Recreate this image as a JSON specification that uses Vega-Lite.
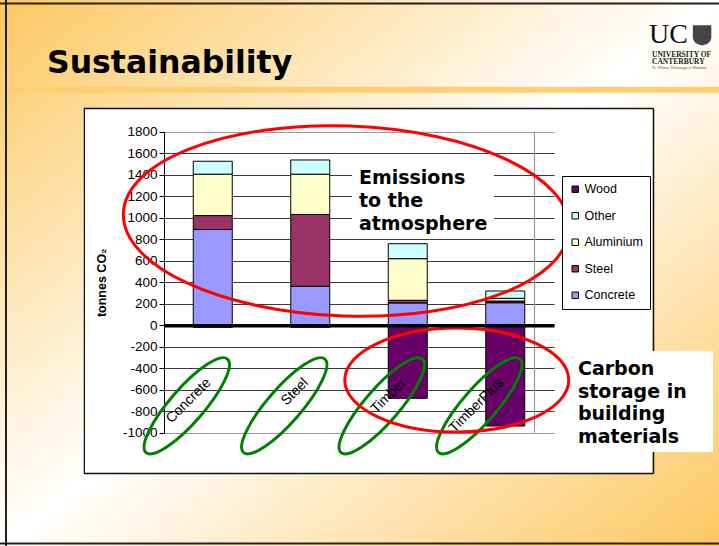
{
  "$schema": "https://vega.github.io/schema/vega-lite/v6.json",
  "width": 719,
  "height": 546,
  "autosize": "none",
  "padding": 0,
  "background": "#ffffff",
  "view": {
    "stroke": null,
    "fill": {"gradient": "linear", "x1": 0, "y1": 0, "x2": 1, "y2": 1,
      "stops": [{"offset": 0, "color": "#FCC862"}, {"offset": 0.5, "color": "#FFFFFF"}, {"offset": 1, "color": "#FDC761"}]}
  },
  "title": {"text": "Sustainability", "anchor": "start", "frame": "group", "offset": 0, "dx": 47, "dy": 105,
    "font": "DejaVu Sans", "fontSize": 31.5, "fontWeight": "bold", "color": "#000000", "baseline": "alphabetic"},
  "config": {
    "axis": {"labelOverlap": false},
    "legend": {"orient": "none", "legendX": 562, "legendY": 176, "strokeColor": "#000000", "fillColor": "#ffffff",
      "padding": 7, "rowPadding": 13.5, "symbolType": "square", "symbolSize": 42, "symbolStrokeColor": "#000000",
      "symbolStrokeWidth": 1, "labelFont": "Liberation Sans", "labelFontSize": 12.5, "labelColor": "#000000", "labelOffset": 3,
      "cornerRadius": 0, "symbolOpacity": 1}
  },
  "datasets": {
    "emissions": [
      {"category": "Concrete", "material": "Concrete", "value": 890, "ord": 1},
      {"category": "Concrete", "material": "Steel", "value": 130, "ord": 2},
      {"category": "Concrete", "material": "Aluminium", "value": 385, "ord": 3},
      {"category": "Concrete", "material": "Other", "value": 120, "ord": 4},
      {"category": "Concrete", "material": "Wood", "value": -20, "ord": 5},
      {"category": "Steel", "material": "Concrete", "value": 362, "ord": 1},
      {"category": "Steel", "material": "Steel", "value": 668, "ord": 2},
      {"category": "Steel", "material": "Aluminium", "value": 375, "ord": 3},
      {"category": "Steel", "material": "Other", "value": 132, "ord": 4},
      {"category": "Steel", "material": "Wood", "value": -20, "ord": 5},
      {"category": "Timber", "material": "Concrete", "value": 207, "ord": 1},
      {"category": "Timber", "material": "Steel", "value": 25, "ord": 2},
      {"category": "Timber", "material": "Aluminium", "value": 387, "ord": 3},
      {"category": "Timber", "material": "Other", "value": 139, "ord": 4},
      {"category": "Timber", "material": "Wood", "value": -680, "ord": 5},
      {"category": "TimberPlus", "material": "Concrete", "value": 209, "ord": 1},
      {"category": "TimberPlus", "material": "Steel", "value": 16, "ord": 2},
      {"category": "TimberPlus", "material": "Aluminium", "value": 25, "ord": 3},
      {"category": "TimberPlus", "material": "Other", "value": 68, "ord": 4},
      {"category": "TimberPlus", "material": "Wood", "value": -938, "ord": 5}
    ]
  },
  "resolve": {"scale": {"x": "independent", "y": "independent"}, "axis": {"x": "independent", "y": "independent"}},
  "layer": [
    {
      "data": {"values": [{}]},
      "layer": [
        {
          "mark": {"type": "point", "opacity": 0},
          "encoding": {
            "x": {"datum": 0.5, "type": "quantitative",
              "scale": {"domain": [0, 1], "range": [83.5, 653], "nice": false, "zero": false},
              "axis": {"orient": "top", "values": [0, 0.5, 1], "tickCount": 50, "grid": true, "domain": false, "ticks": false, "labels": false, "title": null, "zindex": 0,
                "gridOpacity": 1,
                "gridColor": {"condition": {"test": "datum.value === 0.5", "value": "#ffffff"}, "value": "#111111"},
                "gridWidth": {"condition": {"test": "datum.value === 0.5", "value": 567}, "value": 1.5}}},
            "y": {"datum": 0.5, "type": "quantitative",
              "scale": {"domain": [0, 1], "range": [473, 108], "nice": false, "zero": false},
              "axis": {"orient": "left", "values": [0, 1], "tickCount": 50, "grid": true, "domain": false, "ticks": false, "labels": false, "title": null, "zindex": 0,
                "gridOpacity": 1, "gridColor": "#111111", "gridWidth": 1.5}}
          }
        },
        {
          "mark": {"type": "rule", "color": "#FECF72", "strokeWidth": 6},
          "encoding": {"y": {"datum": 1.0501, "type": "quantitative"}}
        },
        {
          "mark": {"type": "rule", "color": "#222222", "strokeWidth": 2},
          "encoding": {"y": {"datum": 1.2863, "type": "quantitative"}}
        },
        {
          "mark": {"type": "rule", "color": "#222222", "strokeWidth": 2},
          "encoding": {"y": {"datum": -0.1932, "type": "quantitative"}}
        },
        {
          "mark": {"type": "rule", "color": "#222222", "strokeWidth": 2},
          "encoding": {"x": {"datum": -0.1361, "type": "quantitative"}}
        },
        {
          "mark": {"type": "text", "text": "UC", "font": "Liberation Serif", "fontSize": 28, "align": "left", "baseline": "alphabetic", "color": "#111111"},
          "encoding": {"x": {"datum": 0.993, "type": "quantitative"}, "y": {"datum": 1.1781, "type": "quantitative"}}
        },
        {
          "mark": {"type": "point", "shape": "M-1,-1H1V0.3Q1,1,0,1.2Q-1,1,-1,0.3Z", "size": 340, "filled": true, "color": "#444444", "opacity": 1},
          "encoding": {"x": {"datum": 1.0862, "type": "quantitative"}, "y": {"datum": 1.2014, "type": "quantitative"}}
        },
        {
          "mark": {"type": "text", "text": "UNIVERSITY OF", "font": "Liberation Serif", "fontSize": 7.5, "fontWeight": "bold", "align": "left", "baseline": "alphabetic", "color": "#222222"},
          "encoding": {"x": {"datum": 0.9982, "type": "quantitative"}, "y": {"datum": 1.1397, "type": "quantitative"}}
        },
        {
          "mark": {"type": "text", "text": "CANTERBURY", "font": "Liberation Serif", "fontSize": 7.5, "fontWeight": "bold", "align": "left", "baseline": "alphabetic", "color": "#222222"},
          "encoding": {"x": {"datum": 0.9982, "type": "quantitative"}, "y": {"datum": 1.1192, "type": "quantitative"}}
        },
        {
          "mark": {"type": "text", "text": "Te Whare Wānanga o Waitaha", "font": "Liberation Serif", "fontSize": 4.5, "align": "left", "baseline": "alphabetic", "color": "#555555"},
          "encoding": {"x": {"datum": 0.9982, "type": "quantitative"}, "y": {"datum": 1.1055, "type": "quantitative"}}
        }
      ]
    },
    {
      "layer": [
        {
          "data": {"name": "emissions"},
          "mark": {"type": "bar", "stroke": "#000000", "strokeWidth": 1},
          "encoding": {
            "x": {"field": "category", "type": "nominal", "sort": ["Concrete", "Steel", "Timber", "TimberPlus"],
              "scale": {"domain": ["Concrete", "Steel", "Timber", "TimberPlus"], "range": [164, 554], "paddingInner": 0.6, "paddingOuter": 0.3},
              "axis": {"orient": "bottom", "offset": -220.8, "domain": true, "domainColor": "#000000", "domainWidth": 3.5, "ticks": false,
                "labels": true, "labelAngle": -45, "labelAlign": "right", "labelBaseline": "middle", "labelPadding": 55, "labelOffset": -4,
                "labelFont": "Liberation Sans", "labelFontSize": 14, "labelColor": "#000000", "labelOverlap": false, "labelBound": false,
                "grid": false, "title": null, "zindex": 1}},
            "y": {"field": "value", "type": "quantitative", "stack": "zero",
              "scale": {"domain": [-1000, 1800], "range": [432.7, 131.7], "nice": false, "zero": false},
              "axis": {"orient": "left", "offset": -164, "values": [-1000, -800, -600, -400, -200, 0, 200, 400, 600, 800, 1000, 1200, 1400, 1600, 1800],
                "tickCount": 50,
                "labelExpr": "'' + datum.value", "labelFont": "Liberation Sans", "labelFontSize": 13.5, "labelColor": "#000000", "labelPadding": 2,
                "labelOverlap": false, "labelBound": false, "labelFlush": false,
                "tickSize": 5, "tickColor": "#000000", "domainColor": "#000000", "domainWidth": 1, "grid": true, "gridOpacity": 1,
                "gridColor": {"condition": {"test": "datum.value === 1800 || datum.value === -1000", "value": "#999999"}, "value": "#3a3a3a"},
                "gridWidth": 1, "title": "tonnes CO₂", "titleFont": "Liberation Sans", "titleFontSize": 12.5, "titleFontWeight": "bold",
                "titleColor": "#000000", "titlePadding": 14, "zindex": 0}},
            "color": {"field": "material", "type": "nominal",
              "scale": {"domain": ["Wood", "Other", "Aluminium", "Steel", "Concrete"], "range": ["#660066", "#CCFFFF", "#FFFFCC", "#993366", "#9999FF"]},
              "legend": {"title": null}},
            "order": {"field": "ord", "type": "quantitative"}
          }
        },
        {
          "data": {"values": [{}]},
          "mark": {"type": "rule", "color": "#999999", "strokeWidth": 1.2},
          "encoding": {"x": {"datum": "TimberPlus", "type": "nominal"}, "xOffset": {"value": 48.75},
            "y": {"datum": 1800, "type": "quantitative"}, "y2": {"datum": -1000}}
        },
        {
          "data": {"values": [{}]},
          "mark": {"type": "bar", "color": "#ffffff", "width": 142, "xOffset": 15.2},
          "encoding": {"x": {"datum": "Timber", "type": "nominal"}, "y": {"datum": 1518, "type": "quantitative"}, "y2": {"datum": 830}}
        },
        {
          "data": {"values": [{}]},
          "mark": {"type": "bar", "color": "#ffffff", "width": 147, "xOffset": 134.2},
          "encoding": {"x": {"datum": "TimberPlus", "type": "nominal"}, "y": {"datum": -240, "type": "quantitative"}, "y2": {"datum": -1180}}
        },
        {
          "data": {"values": [{}]},
          "mark": {"type": "text", "text": ["Emissions", "to the", "atmosphere"], "font": "DejaVu Sans", "fontSize": 19, "fontWeight": "bold",
            "lineHeight": 22.8, "align": "left", "baseline": "alphabetic", "color": "#000000", "xOffset": -48.8},
          "encoding": {"x": {"datum": "Timber", "type": "nominal"}, "y": {"datum": 1313, "type": "quantitative"}}
        },
        {
          "data": {"values": [{}]},
          "mark": {"type": "text", "text": ["Carbon", "storage in", "building", "materials"], "font": "DejaVu Sans", "fontSize": 19, "fontWeight": "bold",
            "lineHeight": 22.6, "align": "left", "baseline": "alphabetic", "color": "#000000", "xOffset": 72.7},
          "encoding": {"x": {"datum": "TimberPlus", "type": "nominal"}, "y": {"datum": -463, "type": "quantitative"}}
        },
        {
          "data": {"name": "emissions"},
          "transform": [{"filter": "datum.material === 'Concrete'"}],
          "mark": {"type": "point", "shape": "M1,0C1,0.1513,0.5523,0.274,0,0.274C-0.5523,0.274,-1,0.1513,-1,0C-1,-0.1513,-0.5523,-0.274,0,-0.274C0.5523,-0.274,1,-0.1513,1,0Z",
            "size": 15376, "angle": -49, "filled": false, "color": "#008000", "strokeWidth": 3, "opacity": 1, "xOffset": -26},
          "encoding": {"x": {"field": "category", "type": "nominal"}, "y": {"datum": -750, "type": "quantitative"}}
        },
        {
          "data": {"values": [{}]},
          "mark": {"type": "point", "shape": "M1,0C1,0.2353,0.5523,0.426,0,0.426C-0.5523,0.426,-1,0.2353,-1,0C-1,-0.2353,-0.5523,-0.426,0,-0.426C0.5523,-0.426,1,-0.2353,1,0Z",
            "size": 198916, "angle": 2, "filled": false, "color": "#FF0000", "strokeWidth": 3, "opacity": 1, "xOffset": 36},
          "encoding": {"x": {"datum": "Steel", "type": "nominal"}, "y": {"datum": 969, "type": "quantitative"}}
        },
        {
          "data": {"values": [{}]},
          "mark": {"type": "point", "shape": "M1,0C1,0.2563,0.5523,0.464,0,0.464C-0.5523,0.464,-1,0.2563,-1,0C-1,-0.2563,-0.5523,-0.464,0,-0.464C0.5523,-0.464,1,-0.2563,1,0Z",
            "size": 50176, "angle": 0, "filled": false, "color": "#FF0000", "strokeWidth": 3, "opacity": 1, "xOffset": 49},
          "encoding": {"x": {"datum": "Timber", "type": "nominal"}, "y": {"datum": -510, "type": "quantitative"}}
        }
      ]
    }
  ]
}
